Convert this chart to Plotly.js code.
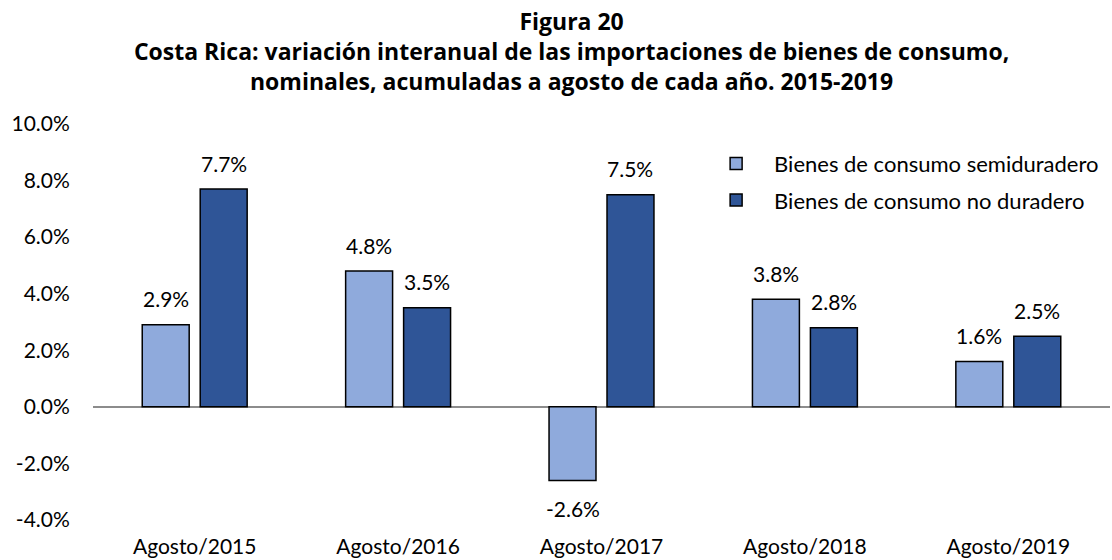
<!DOCTYPE html>
<html>
<head>
<meta charset="utf-8">
<script src="https://cdn.plot.ly/plotly-3.0.1.min.js"></script>
<style>html,body{margin:0;padding:0;background:#fff;}#chart{width:1112px;height:560px;}</style>
</head>
<body>
<div id="chart"></div>
<script>
const categories = ["Agosto/2015", "Agosto/2016", "Agosto/2017", "Agosto/2018", "Agosto/2019"];
const semiduradero = [2.9, 4.8, -2.6, 3.8, 1.6];
const noDuradero = [7.7, 3.5, 7.5, 2.8, 2.5];
const seriesNames = ["Bienes de consumo semiduradero", "Bienes de consumo no duradero"];
const yTicks = [-4, -2, 0, 2, 4, 6, 8, 10];

const FONT = "Lato, 'Noto Sans', sans-serif";
const TITLE_FONT = "'Open Sans', Lato, sans-serif";
const colors = ["#8FAADC", "#2F5597"];
const bargap = 0.43;
const series = [semiduradero, noDuradero];

const traces = series.map((vals, i) => ({
  type: "bar",
  name: seriesNames[i],
  x: categories,
  y: vals,
  legendgroup: "g" + i,
  marker: {color: colors[i], line: {color: "#000", width: 1.5}},
  hoverinfo: "skip"
}));

const annotations = [];
series.forEach((vals, i) => {
  vals.forEach((v, j) => {
    annotations.push({
      x: j + (i - 0.5) * (1 - bargap) / 2,
      y: v, xref: "x", yref: "y",
      text: v.toFixed(1) + "%",
      showarrow: false,
      yanchor: "middle",
      yshift: v >= 0 ? 26 : -28,
      font: {family: FONT, size: 21, color: "#000"}
    });
  });
});

const layout = {
  width: 1112, height: 560,
  margin: {l: 93, r: 2, t: 124, b: 40},
  paper_bgcolor: "#fff", plot_bgcolor: "#fff",
  barmode: "group", bargap: bargap, bargroupgap: 0.19,
  title: {
    text: "<b>Figura 20<br>Costa Rica: variación interanual de las importaciones de bienes de consumo,<br>nominales, acumuladas a agosto de cada año. 2015-2019</b>",
    font: {family: TITLE_FONT, size: 23, color: "#000"},
    x: 0.514, xref: "container", xanchor: "center",
    y: 0.946, yref: "container", yanchor: "top"
  },
  xaxis: {
    type: "category",
    showline: false, showgrid: false, zeroline: false,
    ticks: "outside", ticklen: 8, tickcolor: "rgba(0,0,0,0)",
    tickfont: {family: FONT, size: 21, color: "#000"},
    fixedrange: true
  },
  yaxis: {
    range: [-4, 10], tickvals: yTicks,
    ticktext: yTicks.map(v => v.toFixed(1) + "%"),
    showline: false, showgrid: false,
    zeroline: true, zerolinecolor: "#8c8c8c", zerolinewidth: 1.5,
    ticks: "outside", ticklen: 18, tickcolor: "rgba(0,0,0,0)",
    tickfont: {family: FONT, size: 21, color: "#000"},
    fixedrange: true
  },
  legend: {
    x: 0.595, xanchor: "left", y: 0.953, yanchor: "top",
    font: {family: FONT, size: 22, color: "#000"},
    itemwidth: 66, traceorder: "grouped", tracegroupgap: 5,
    bgcolor: "rgba(0,0,0,0)"
  },
  annotations: annotations,
  showlegend: true
};

Plotly.newPlot("chart", traces, layout, {displayModeBar: false, staticPlot: true});
</script>
</body>
</html>
